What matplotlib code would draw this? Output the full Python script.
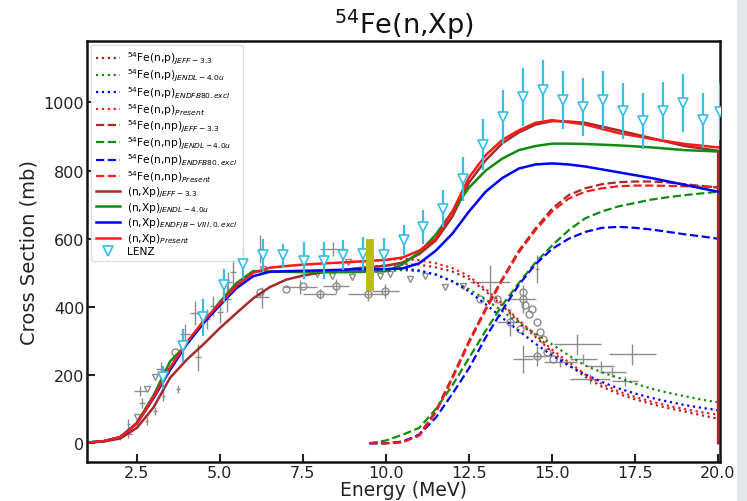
import matplotlib
matplotlib.use("Agg")
import matplotlib.pyplot as plt
from matplotlib.patches import Rectangle

# ---------------- data ----------------
# (n,Xp) total curves
E_xp = [1.0, 1.5, 2.0, 2.5, 3.0, 3.5, 4.0, 4.5, 5.0, 5.5, 6.0, 6.5, 7.0, 7.5, 8.0, 9.0, 10.0,
        10.5, 11.0, 11.5, 12.0, 12.5, 13.0, 13.5, 14.0, 14.5, 15.0, 15.5, 16.0, 17.0, 18.0,
        19.0, 20.0]
xp_present = [2, 6, 18, 58, 135, 222, 296, 358, 410, 462, 500, 515, 520, 524, 527, 532, 538,
              545, 565, 600, 680, 780, 845, 890, 918, 940, 948, 942, 935, 910, 893, 878, 868]
xp_jeff = [2, 5, 14, 45, 105, 192, 245, 290, 338, 382, 425, 458, 480, 492, 500, 512, 521,
           530, 555, 595, 665, 765, 830, 880, 912, 935, 945, 944, 940, 918, 895, 872, 858]
xp_jendl = [2, 6, 18, 60, 140, 240, 290, 352, 415, 470, 505, 504, 503, 502, 502, 502, 505,
            525, 560, 612, 680, 750, 800, 835, 860, 872, 879, 879, 878, 874, 868, 860, 856]
xp_endf = [2, 6, 18, 58, 132, 215, 290, 352, 405, 455, 490, 503, 505, 506, 507, 510, 511,
           513, 528, 565, 615, 680, 738, 778, 806, 818, 821, 818, 812, 795, 778, 758, 738]

# (n,p) curves
E_np = [9.0, 10.0, 10.5, 11.0, 11.5, 12.0, 12.5, 13.0, 13.5, 14.0, 14.5, 15.0, 15.5, 16.0,
        16.5, 17.0, 17.5, 18.0, 18.5, 19.0, 19.5, 20.0]
np_present = [532, 538, 541, 537, 528, 514, 490, 452, 410, 360, 318, 275, 238, 202, 174, 152,
              136, 122, 110, 100, 91, 84]
np_jeff = [512, 522, 525, 524, 516, 504, 482, 446, 404, 356, 312, 268, 230, 195, 166, 145,
           129, 115, 103, 93, 82, 72]
np_jendl = [502, 505, 508, 505, 495, 475, 452, 422, 388, 352, 322, 290, 258, 228, 208, 192,
            175, 160, 148, 138, 128, 120]
np_endf = [510, 511, 512, 507, 495, 475, 445, 408, 368, 330, 292, 258, 228, 202, 180, 161,
           146, 133, 122, 112, 104, 97]

# (n,np) curves
E_nnp = [9.5, 10.0, 10.5, 11.0, 11.5, 12.0, 12.5, 13.0, 13.5, 14.0, 14.5, 15.0, 15.5, 16.0,
         16.5, 17.0, 17.5, 18.0, 18.5, 19.0, 19.5, 20.0]
nnp_present = [0, 0, 3, 22, 90, 190, 295, 390, 478, 560, 625, 680, 718, 738, 748, 754, 756,
               756, 755, 754, 753, 752]
nnp_jeff = [0, 0, 3, 25, 95, 195, 300, 395, 482, 565, 630, 688, 728, 748, 760, 766, 768, 768,
            765, 760, 755, 750]
nnp_jendl = [0, 8, 25, 45, 100, 170, 250, 330, 405, 470, 530, 580, 625, 660, 680, 695, 705,
             715, 722, 728, 733, 738]
nnp_endf = [0, 0, 5, 25, 75, 145, 220, 310, 390, 465, 525, 570, 600, 620, 632, 635, 632, 627,
            620, 613, 607, 600]

# LENZ experimental data
lenz_E = [3.30, 3.90, 4.50, 5.11, 5.71, 6.31, 6.91, 7.52, 8.12, 8.72, 9.32, 9.93, 10.53,
          11.13, 11.73, 12.33, 12.93, 13.53, 14.13, 14.73, 15.33, 15.93, 16.53, 17.13, 17.74,
          18.34, 18.94, 19.55, 20.05]
lenz_xs = [193, 286, 370, 463, 526, 551, 551, 536, 536, 551, 556, 553, 595, 634, 688, 776,
           876, 958, 1017, 1036, 1007, 987, 1007, 975, 945, 975, 997, 948, 973]
lenz_err = [34, 49, 54, 49, 45, 49, 34, 55, 55, 44, 49, 49, 44, 49, 54, 64, 75, 79, 85, 88,
            85, 85, 85, 81, 82, 84, 85, 81, 84]

# other experimental data (gray)
ex_E = [2.00, 2.24, 2.24, 2.65, 2.60, 2.80, 3.05, 3.30, 3.22, 3.74, 3.95, 4.25, 4.34, 4.60,
        4.80, 5.00, 5.22, 5.25, 5.40, 6.21, 6.27, 7.41, 8.00, 8.40, 8.50, 9.47, 9.98, 13.14,
        13.74, 14.13, 14.55, 14.13, 14.55, 15.76, 17.42, 16.46, 16.82, 17.20, 16.15, 15.25,
        15.94]
ex_xs = [18, 26, 56, 119, 153, 66, 94, 138, 217, 159, 320, 383, 252, 365, 403, 384, 424, 472,
         503, 570, 428, 459, 438, 570, 462, 438, 447, 472, 355, 423, 511, 247, 256, 290, 261,
         226, 208, 182, 188, 238, 247]
ex_dE = [0.05, 0.10, 0.05, 0.10, 0.20, 0.05, 0.05, 0.05, 0.15, 0.05, 0.15, 0.15, 0.10, 0.10,
         0.10, 0.10, 0.10, 0.10, 0.10, 0.05, 0.20, 0.50, 0.50, 0.40, 0.40, 0.60, 0.40, 0.60,
         0.40, 0.40, 0.05, 0.30, 0.40, 0.70, 0.70, 0.40, 0.40, 0.40, 0.60, 0.50, 0.40]
ex_dxs = [8, 10, 15, 15, 15, 12, 12, 15, 20, 12, 30, 35, 40, 30, 30, 30, 40, 30, 40, 40, 30,
          20, 15, 20, 20, 20, 20, 50, 40, 40, 40, 40, 30, 30, 30, 15, 15, 15, 15, 15, 15]

circ_E = [3.65, 6.21, 7.00, 7.50, 8.00, 8.50, 9.47, 9.98, 12.84, 13.35, 14.13, 14.13, 14.20,
          14.04, 14.55, 14.64, 14.73, 14.86, 14.55, 15.04, 13.74, 14.30, 14.40]
circ_xs = [267, 443, 452, 462, 438, 462, 438, 447, 423, 423, 423, 443, 405, 334, 355, 326,
           305, 267, 256, 247, 355, 380, 395]

tri_E = [2.50, 2.80, 3.05, 6.31, 7.93, 8.38, 8.98, 8.86, 9.83, 10.13, 10.73, 11.18, 11.78,
         12.33]
tri_xs = [76, 159, 193, 511, 497, 491, 488, 531, 491, 497, 482, 491, 459, 462]

# highlighted band (olive bar)
band_E = [9.40, 9.65]
band_xs = [447, 600]

# ---------------- plot ----------------
fig = plt.figure(figsize=(7.47, 5.02), dpi=100)
fig.patches.append(Rectangle((0.987, 0), 0.013, 1, transform=fig.transFigure,
                             color="#e4e8eb", zorder=0))
ax = fig.add_axes([0.1165, 0.0777, 0.8475, 0.8385])

c_jeff, c_jendl, c_endf, c_pres = "#a52a2a", "#138a13", "#0000ff", "#ff1a1a"

ax.fill_between(band_E, band_xs[0], band_xs[1], color="#bcbc1e", zorder=6, lw=0)

ax.errorbar(ex_E, ex_xs, xerr=ex_dE, yerr=ex_dxs, fmt="none", ecolor="#8c8c8c",
            elinewidth=1.0, zorder=2)
ax.plot(circ_E, circ_xs, "o", ms=5, mfc="none", mec="#8c8c8c", mew=1.0, zorder=2)
ax.plot(tri_E, tri_xs, "v", ms=5, mfc="none", mec="#8c8c8c", mew=1.0, zorder=2)

lw_dot, lw_dash, lw_sol = 1.6, 1.6, 1.8
ax.plot(E_np, np_jeff, ":", color=c_jeff, lw=lw_dot, label=r"$^{54}$Fe(n,p)$_{JEFF-3.3}$")
ax.plot(E_np, np_jendl, ":", color=c_jendl, lw=lw_dot, label=r"$^{54}$Fe(n,p)$_{JENDL-4.0u}$")
ax.plot(E_np, np_endf, ":", color=c_endf, lw=lw_dot, label=r"$^{54}$Fe(n,p)$_{ENDFB80.excl}$")
ax.plot(E_np, np_present, ":", color=c_pres, lw=lw_dot, label=r"$^{54}$Fe(n,p)$_{Present}$")
ax.plot(E_nnp, nnp_jeff, "--", color=c_jeff, lw=lw_dash, label=r"$^{54}$Fe(n,np)$_{JEFF-3.3}$")
ax.plot(E_nnp, nnp_jendl, "--", color=c_jendl, lw=lw_dash, label=r"$^{54}$Fe(n,np)$_{JENDL-4.0u}$")
ax.plot(E_nnp, nnp_endf, "--", color=c_endf, lw=lw_dash, label=r"$^{54}$Fe(n,np)$_{ENDFB80.excl}$")
ax.plot(E_nnp, nnp_present, "--", color=c_pres, lw=lw_dash, label=r"$^{54}$Fe(n,np)$_{Present}$")
ax.plot(E_xp + [E_xp[-1]], xp_jeff + [0], "-", color=c_jeff, lw=lw_sol,
        label=r"(n,Xp)$_{JEFF-3.3}$")
ax.plot(E_xp, xp_jendl, "-", color=c_jendl, lw=lw_sol, label=r"(n,Xp)$_{JENDL-4.0u}$")
ax.plot(E_xp, xp_endf, "-", color=c_endf, lw=lw_sol, label=r"(n,Xp)$_{ENDF/B-VIII.0.excl}$")
ax.plot(E_xp, xp_present, "-", color=c_pres, lw=lw_sol, label=r"(n,Xp)$_{Present}$")

ax.errorbar(lenz_E, lenz_xs, yerr=lenz_err, fmt="v", color="#38bdea", ecolor="#38bdea",
            mfc="white", mec="#38bdea", ms=6.5, mew=1.2, elinewidth=1.6, capsize=0,
            label="LENZ", zorder=5)

ax.set_xlim(1.0, 20.06)
ax.set_ylim(-55, 1180)
ax.set_xticks([2.5, 5.0, 7.5, 10.0, 12.5, 15.0, 17.5, 20.0])
ax.set_yticks([0, 200, 400, 600, 800, 1000])
ax.tick_params(direction="in", length=6, width=1.5, labelsize=11.5, colors="#222222",
               pad=2)
for s in ax.spines.values():
    s.set_linewidth(1.8)
    s.set_color("#111111")

ax.set_xlabel("Energy (MeV)", fontsize=13.5, color="#222222", labelpad=0)
ax.set_ylabel("Cross Section (mb)", fontsize=14, color="#222222")
ax.set_title(r"$^{54}$Fe(n,Xp)", fontsize=19.5, pad=5, color="#111111")

leg = ax.legend(loc="upper left", fontsize=7.7, frameon=True, fancybox=True,
                framealpha=0.9, edgecolor="#dddddd", labelspacing=0.08,
                handlelength=2.2, handletextpad=0.7, borderaxespad=0.4, borderpad=0.45)

fig.savefig("out.png", dpi=100)
